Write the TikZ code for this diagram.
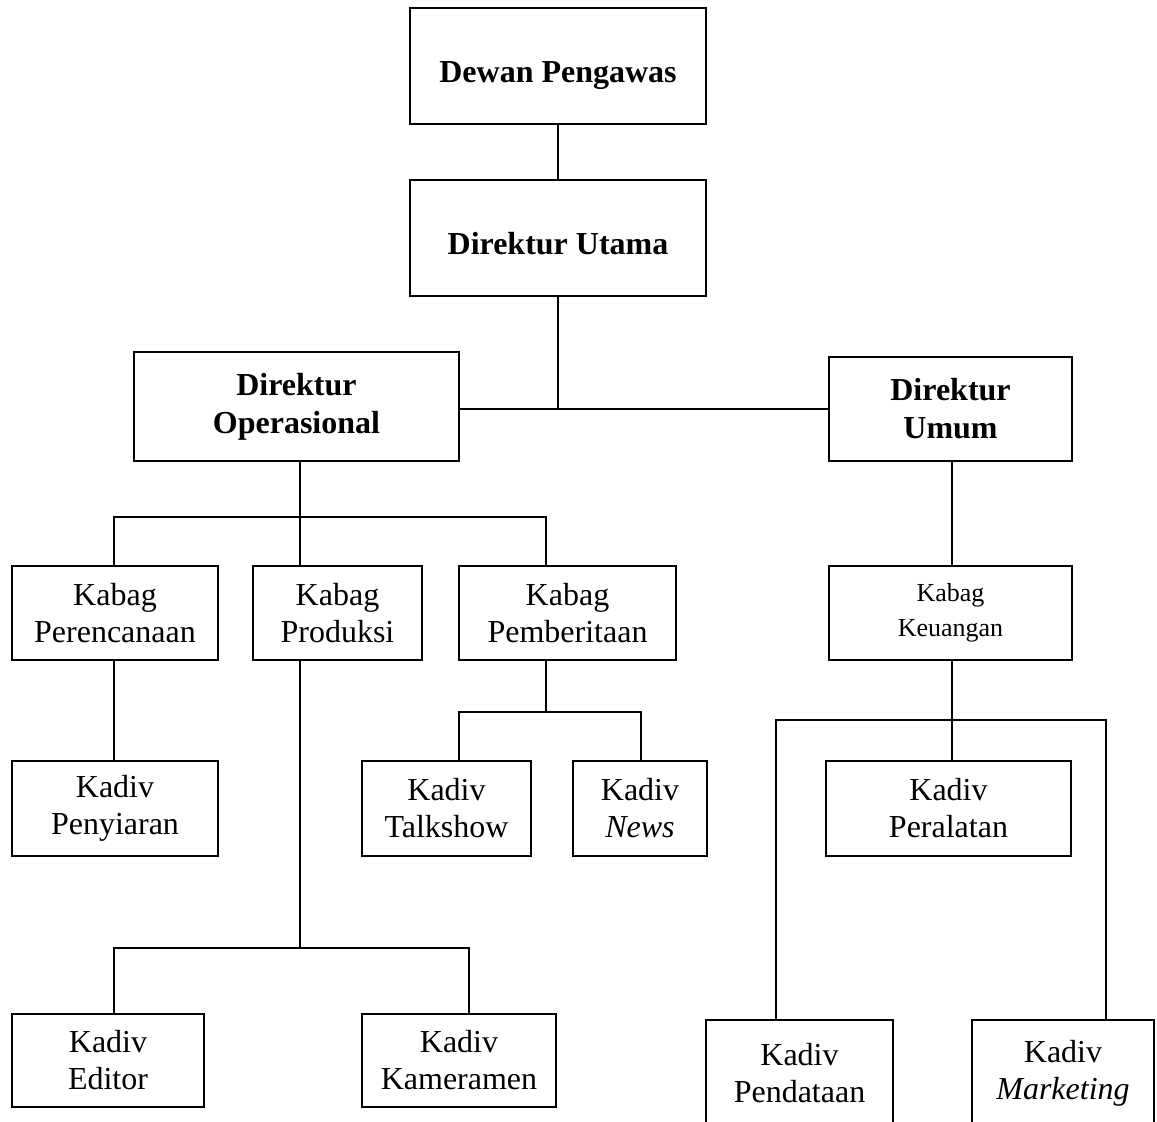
\documentclass[tikz,border=0pt]{standalone}
\usepackage{fontspec}
\setmainfont{Liberation Serif}
\tikzset{
  box/.style={draw, line width=1pt, align=center, inner sep=0pt, font=\fontsize{16}{18.5}\selectfont},
  headbox/.style={box, font=\fontsize{16}{19}\selectfont\bfseries},
  onebox/.style={headbox, text height=17pt, text depth=0pt},
  smallbox/.style={box, font=\fontsize{13}{17.5}\selectfont},
  link/.style={line width=1pt},
}
\begin{document}
\begin{tikzpicture}[x=0.5pt, y=-0.5pt]
                \useasboundingbox (0,0) rectangle (1157,1122);

                % Direksi
                \node[onebox, minimum width=148pt, minimum height=58pt] (dp) at (558,66) {Dewan Pengawas};
                \node[onebox, minimum width=148pt, minimum height=58pt] (du) at (558,238) {Direktur Utama};
                \node[headbox, minimum width=162.5pt, minimum height=54.5pt] (dop) at (296.5,406.5) {Direktur\\Operasional};
                \node[headbox, minimum width=121.5pt, minimum height=52pt] (dum) at (950.5,409) {Direktur\\Umum};

                % Kabag
                \node[box, minimum width=103pt, minimum height=47pt] (kper) at (115,613) {Kabag\\Perencanaan};
                \node[box, minimum width=84.5pt, minimum height=47pt] (kpro) at (337.5,613) {Kabag\\Produksi};
                \node[box, minimum width=108.5pt, minimum height=47pt] (kpb) at (567.5,613) {Kabag\\Pemberitaan};
                \node[smallbox, minimum width=121.5pt, minimum height=47pt] (kk) at (950.5,613) {Kabag\\Keuangan};

                % Kadiv
                \node[box, minimum width=103pt, minimum height=47.5pt] (kpeny) at (115,808.5) {Kadiv\\Penyiaran};
                \node[box, minimum width=84.5pt, minimum height=47.5pt] (ktalk) at (446.5,808.5) {Kadiv\\Talkshow};
                \node[box, minimum width=67pt, minimum height=47.5pt] (knews) at (640,808.5) {Kadiv\\\textit{News}};
                \node[box, minimum width=122.5pt, minimum height=47.5pt] (kperal) at (948.5,808.5) {Kadiv\\Peralatan};
                \node[box, minimum width=96pt, minimum height=46.5pt] (ked) at (108,1060.5) {Kadiv\\Editor};
                \node[box, minimum width=97pt, minimum height=46.5pt] (kkam) at (459,1060.5) {Kadiv\\Kameramen};
                \node[box, minimum width=93.5pt, minimum height=53pt] (kpend) at (799.5,1073) {Kadiv\\Pendataan};
                \node[box, minimum width=91pt, minimum height=53pt] (kmkt) at (1063,1073) {Kadiv\\\textit{Marketing}};

                % Garis
                \coordinate (j1) at (558,409);
                \draw[link] (dp) -- (du);
                \draw[link] (du) -- (j1);
                \draw[link] (dop.east |- j1) -- (dum.west |- j1);

                \coordinate (j2) at (300,517);
                \draw[link] (dop.south -| j2) -- (j2);
                \draw[link] (kper.north -| 114,0) |- (j2) -| (kpb.north -| 546,0);
                \draw[link] (j2) -- (kpro.north -| j2);
                \draw[link] (kper.south -| 114,0) -- (kpeny.north -| 114,0);
                \draw[link] (dum.south -| 952,0) -- (kk.north -| 952,0);

                \coordinate (j3) at (546,712);
                \draw[link] (kpb.south -| j3) -- (j3);
                \draw[link] (ktalk.north -| 459,0) |- (j3) -| (knews.north -| 641,0);

                \coordinate (j4) at (952,720);
                \draw[link] (kk.south -| j4) -- (j4) -- (kperal.north -| j4);
                \draw[link] (kpend.north -| 776,0) |- (j4) -| (kmkt.north -| 1106,0);

                \coordinate (j5) at (300,948);
                \draw[link] (kpro.south -| j5) -- (j5);
                \draw[link] (ked.north -| 114,0) |- (j5) -| (kkam.north -| 469,0);
            \end{tikzpicture}
\end{document}
